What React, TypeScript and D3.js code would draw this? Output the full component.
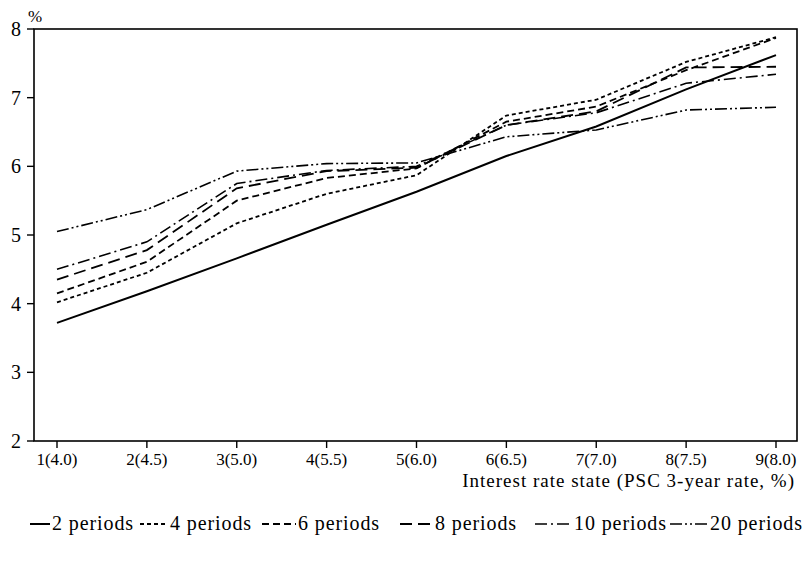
import React from "react";
import * as d3 from "d3";

const categories = ["1(4.0)", "2(4.5)", "3(5.0)", "4(5.5)", "5(6.0)", "6(6.5)", "7(7.0)", "8(7.5)", "9(8.0)"];
const yTicks = [2, 3, 4, 5, 6, 7, 8];

const p2 = [3.72, 4.18, 4.66, 5.15, 5.63, 6.15, 6.58, 7.12, 7.62];
const p4 = [4.02, 4.45, 5.17, 5.6, 5.87, 6.74, 6.97, 7.52, 7.88];
const p6 = [4.15, 4.61, 5.5, 5.83, 5.97, 6.65, 6.87, 7.4, 7.87];
const p8 = [4.35, 4.78, 5.68, 5.93, 5.98, 6.6, 6.8, 7.44, 7.45];
const p10 = [4.5, 4.9, 5.75, 5.94, 6.0, 6.6, 6.78, 7.21, 7.34];
const p20 = [5.05, 5.37, 5.93, 6.04, 6.05, 6.43, 6.53, 6.82, 6.86];

const seriesNames = ["2 periods", "4 periods", "6 periods", "8 periods", "10 periods", "20 periods"];
const seriesValues = [p2, p4, p6, p8, p10, p20];
const dashes = ["", "4,3", "7,4", "12,6", "12,4,2,4", "12,3,2,3,2,3"];
const widths = [2, 1.8, 1.8, 1.8, 1.6, 1.6];

const legendX = [30, 140, 262, 400, 535, 670];
const legendEnd = [50, 168, 296, 433, 572, 708];

export default function App() {
  const W = 812, H = 563;
  const left = 34, right = 797, top = 29, bottom = 441;
  const x = d3.scaleLinear().domain([0, categories.length - 1]).range([57, 776]);
  const y = d3.scaleLinear().domain([2, 8]).range([bottom, top]);
  const line = d3.line<number>().x((_, i) => x(i)).y((d) => y(d));
  const font = "'Liberation Serif', 'Times New Roman', serif";

  return (
    <svg width={W} height={H} style={{ position: "absolute", left: 0, top: 0, background: "#fff", fontFamily: font }}>
      <rect x={0} y={0} width={W} height={H} fill="#fff" />
      <rect x={left} y={top} width={right - left} height={bottom - top} fill="none" stroke="#000" strokeWidth={1.6} />
      {yTicks.map((t) => (
        <g key={t}>
          <line x1={left - 7} x2={left} y1={y(t)} y2={y(t)} stroke="#000" strokeWidth={1.4} />
          <text x={21} y={y(t) + 7} textAnchor="end" fontSize={20}>{t}</text>
        </g>
      ))}
      <text x={35} y={22} textAnchor="middle" fontSize={17}>%</text>
      {categories.map((c, i) => (
        <g key={c}>
          <line x1={x(i)} x2={x(i)} y1={bottom} y2={bottom + 7} stroke="#000" strokeWidth={1.4} />
          <text x={x(i)} y={bottom + 24} textAnchor="middle" fontSize={17}>{c}</text>
        </g>
      ))}
      <text x={795} y={487} textAnchor="end" fontSize={19} letterSpacing={1}>Interest rate state (PSC 3-year rate, %)</text>
      {seriesValues.map((vals, k) => (
        <path key={k} d={line(vals) || ""} fill="none" stroke="#000" strokeWidth={widths[k]} strokeDasharray={dashes[k]} />
      ))}
      {seriesNames.map((n, k) => (
        <g key={n}>
          <line x1={legendX[k]} x2={legendEnd[k]} y1={524} y2={524} stroke="#000" strokeWidth={widths[k]} strokeDasharray={dashes[k]} />
          <text x={legendEnd[k] + 2} y={530} fontSize={20} letterSpacing={0.9}>{n}</text>
        </g>
      ))}
    </svg>
  );
}
